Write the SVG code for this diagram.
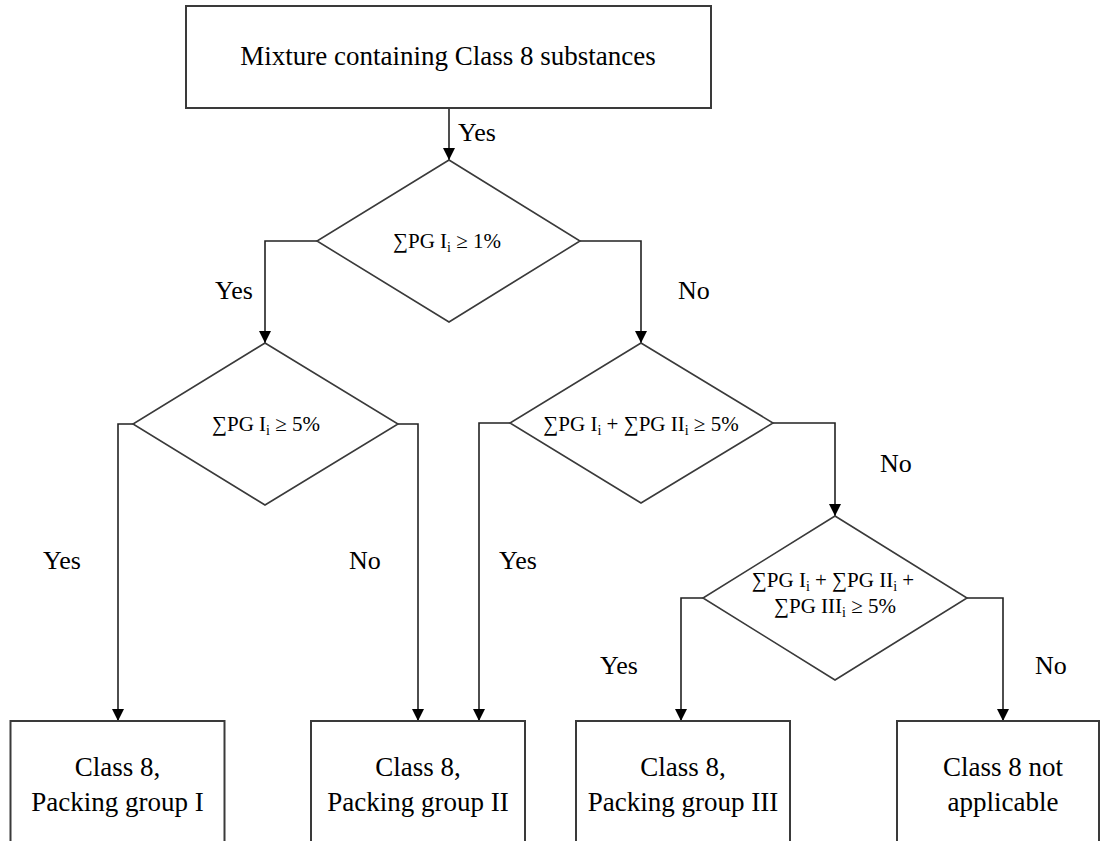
<svg xmlns="http://www.w3.org/2000/svg" width="1101" height="841" viewBox="0 0 1101 841">
<style>
.box{fill:#fff;stroke:#3a3a3a;stroke-width:2}
.dia{fill:#fff;stroke:#3a3a3a;stroke-width:1.6}
.t{font-family:"Liberation Serif","Times New Roman",serif;font-size:27px;fill:#000;text-anchor:middle}
.d{font-family:"Liberation Serif","Times New Roman",serif;font-size:21px;fill:#000;text-anchor:middle}
.lbl{font-family:"Liberation Serif","Times New Roman",serif;font-size:26px;fill:#000}
.c{fill:none;stroke:#222;stroke-width:1.6}
.sub{font-size:14px}
</style>
<defs>
<marker id="ah" markerWidth="12" markerHeight="14" refX="12" refY="7" orient="auto" markerUnits="userSpaceOnUse">
<path d="M0,1 L12,7 L0,13 Z" fill="#000"/>
</marker>
</defs>
<g id="connectors">
<path class="c" d="M449,108 V160" marker-end="url(#ah)"/>
<path class="c" d="M317,241 H265 V343" marker-end="url(#ah)"/>
<path class="c" d="M580,241 H641 V343" marker-end="url(#ah)"/>
<path class="c" d="M133,424 H118 V721" marker-end="url(#ah)"/>
<path class="c" d="M398,424 H418 V721" marker-end="url(#ah)"/>
<path class="c" d="M510,423 H479 V721" marker-end="url(#ah)"/>
<path class="c" d="M773,423 H835 V516" marker-end="url(#ah)"/>
<path class="c" d="M703,598 H681 V721" marker-end="url(#ah)"/>
<path class="c" d="M967,598 H1003 V721" marker-end="url(#ah)"/>
</g>
<g id="labels">
<text class="lbl" x="458" y="141">Yes</text>
<text class="lbl" x="215" y="299">Yes</text>
<text class="lbl" x="678" y="299">No</text>
<text class="lbl" x="43" y="569">Yes</text>
<text class="lbl" x="349" y="569">No</text>
<text class="lbl" x="499" y="569">Yes</text>
<text class="lbl" x="880" y="472">No</text>
<text class="lbl" x="600" y="674">Yes</text>
<text class="lbl" x="1035" y="674">No</text>
</g>
<g id="start">
<rect class="box" x="186" y="6" width="525" height="102"/>
<text class="t" x="448" y="65">Mixture containing Class 8 substances</text>
</g>
<g id="d1">
<polygon class="dia" points="449,160 580,241 449,322 317,241"/>
<text class="d" x="447" y="248">∑PG I<tspan class="sub" dy="4">i</tspan><tspan dy="-4"> ≥ 1%</tspan></text>
</g>
<g id="d2">
<polygon class="dia" points="265,343 398,424 265,505 133,424"/>
<text class="d" x="266" y="431">∑PG I<tspan class="sub" dy="4">i</tspan><tspan dy="-4"> ≥ 5%</tspan></text>
</g>
<g id="d3">
<polygon class="dia" points="641,343 773,423 641,503 510,423"/>
<text class="d" x="641" y="431">∑PG I<tspan class="sub" dy="4">i</tspan><tspan dy="-4"> + ∑PG II</tspan><tspan class="sub" dy="4">i</tspan><tspan dy="-4"> ≥ 5%</tspan></text>
</g>
<g id="d4">
<polygon class="dia" points="835,516 967,598 835,680 703,598"/>
<text class="d" x="833" y="587">∑PG I<tspan class="sub" dy="4">i</tspan><tspan dy="-4"> + ∑PG II</tspan><tspan class="sub" dy="4">i</tspan><tspan dy="-4"> +</tspan></text>
<text class="d" x="835" y="613">∑PG III<tspan class="sub" dy="4">i</tspan><tspan dy="-4"> ≥ 5%</tspan></text>
</g>
<g id="pg1">
<rect class="box" x="10.5" y="721" width="214" height="140"/>
<text class="t" x="117.5" y="776">Class 8,</text>
<text class="t" x="117.5" y="811">Packing group I</text>
</g>
<g id="pg2">
<rect class="box" x="311" y="721" width="214" height="140"/>
<text class="t" x="418" y="776">Class 8,</text>
<text class="t" x="418" y="811">Packing group II</text>
</g>
<g id="pg3">
<rect class="box" x="576" y="721" width="214" height="140"/>
<text class="t" x="683" y="776">Class 8,</text>
<text class="t" x="683" y="811">Packing group III</text>
</g>
<g id="na">
<rect class="box" x="897" y="721" width="202" height="140"/>
<text class="t" x="1003" y="776">Class 8 not</text>
<text class="t" x="1003" y="811">applicable</text>
</g>
</svg>
